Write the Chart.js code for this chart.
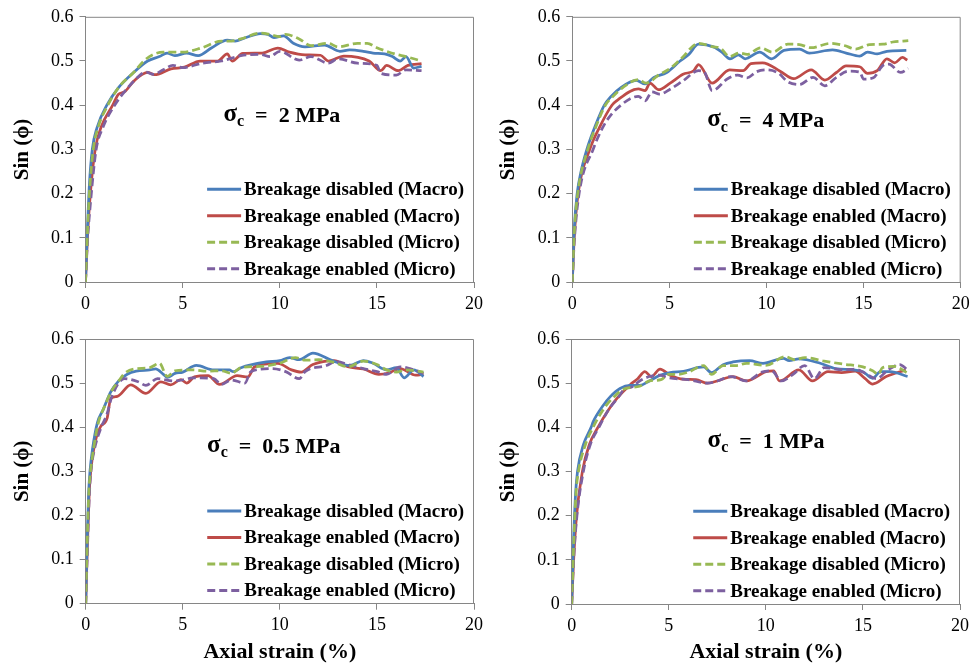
<!DOCTYPE html>
<html>
<head>
<meta charset="utf-8">
<script src="https://cdn.jsdelivr.net/npm/chart.js@4.4.1/dist/chart.umd.min.js"></script>
<style>
  body { margin: 0; background: #fff; }
  #wrap { position: relative; width: 980px; height: 669px; }
  .cell { position: absolute; }
</style>
</head>
<body>
<div id="wrap">
  <div class="cell" style="left:0;top:0;width:490px;height:320px"><canvas id="c2" width="490" height="320"></canvas></div>
  <div class="cell" style="left:490px;top:0;width:490px;height:320px"><canvas id="c4" width="490" height="320"></canvas></div>
  <div class="cell" style="left:0;top:320px;width:490px;height:349px"><canvas id="c05" width="490" height="349"></canvas></div>
  <div class="cell" style="left:490px;top:320px;width:490px;height:349px"><canvas id="c1" width="490" height="349"></canvas></div>
</div>
<script>
// series labels + tick values
const seriesLabels = ['Breakage disabled (Macro)', 'Breakage enabled (Macro)', 'Breakage disabled (Micro)', 'Breakage enabled (Micro)']
const strainTicks = [0, 5, 10, 15, 20]
const sinTicks = [0, 0.1, 0.2, 0.3, 0.4, 0.5, 0.6]

// sigma_c = 2 MPa  -> [axial strain %, sin(phi)]
const mpa2DisMacro = [[0,0],[0.1,0.12],[0.2,0.22],[0.35,0.3],[0.6,0.35],[1.1,0.4],[1.7,0.44],[2.5,0.475],[3.2,0.5],[3.8,0.51],[4.2,0.518],[4.6,0.512],[5.2,0.518],[5.8,0.512],[6.5,0.53],[7.3,0.547],[7.7,0.545],[8.2,0.552],[9,0.562],[9.4,0.56],[9.7,0.553],[10.2,0.557],[10.7,0.54],[11.3,0.532],[12.3,0.536],[13.1,0.522],[13.6,0.525],[14.3,0.522],[14.8,0.518],[15.4,0.516],[15.8,0.51],[16.2,0.5],[16.5,0.51],[16.9,0.484],[17.3,0.488]]
const mpa2EnMacro = [[0,0],[0.1,0.1],[0.25,0.2],[0.5,0.3],[0.8,0.35],[1.4,0.4],[1.7,0.425],[2.0,0.43],[2.5,0.455],[3.2,0.474],[3.55,0.469],[4.4,0.482],[5.1,0.486],[5.9,0.5],[6.8,0.5],[7.3,0.516],[7.55,0.5],[8.1,0.517],[9.1,0.518],[9.9,0.529],[10.5,0.52],[11.3,0.514],[12.1,0.513],[12.5,0.5],[13.3,0.511],[14.6,0.5],[15.2,0.478],[15.5,0.49],[16.1,0.478],[16.6,0.49],[17.3,0.494]]
const mpa2DisMicro = [[0,0],[0.1,0.11],[0.2,0.2],[0.4,0.3],[0.65,0.35],[1.15,0.4],[1.7,0.44],[2.5,0.475],[3.0,0.5],[3.5,0.515],[4,0.52],[5,0.52],[6,0.53],[7,0.545],[7.5,0.545],[8,0.55],[9,0.563],[9.5,0.56],[10,0.555],[10.3,0.56],[11,0.55],[11.6,0.535],[12.5,0.54],[13,0.532],[14,0.54],[14.5,0.54],[15,0.53],[15.5,0.522],[16,0.515],[16.5,0.51],[17.3,0.5]]
const mpa2EnMicro = [[0,0],[0.1,0.09],[0.3,0.2],[0.55,0.3],[0.9,0.35],[1.5,0.4],[2.0,0.43],[2.5,0.455],[3.1,0.475],[3.5,0.47],[4.0,0.48],[4.5,0.49],[5,0.485],[6,0.495],[7,0.5],[8,0.512],[9,0.515],[9.5,0.51],[10,0.522],[11,0.502],[11.6,0.51],[12.5,0.495],[13,0.505],[14,0.495],[15,0.49],[15.2,0.472],[16,0.468],[16.5,0.48],[17.3,0.478]]

// sigma_c = 4 MPa
const mpa4DisMacro = [[0,0],[0.1,0.12],[0.25,0.2],[0.45,0.25],[0.75,0.3],[1.2,0.355],[1.65,0.4],[2.0,0.42],[2.5,0.44],[3.3,0.456],[3.75,0.448],[4.2,0.463],[4.86,0.474],[5.55,0.5],[6.0,0.515],[6.5,0.538],[7.27,0.532],[7.7,0.52],[8.12,0.505],[8.55,0.514],[8.9,0.505],[9.65,0.52],[10.26,0.505],[10.9,0.524],[11.7,0.527],[12.2,0.518],[13.4,0.525],[14.1,0.518],[14.8,0.511],[15.2,0.52],[15.7,0.516],[16.2,0.522],[17.2,0.524]]
const mpa4EnMacro = [[0,0],[0.1,0.1],[0.3,0.2],[0.9,0.3],[1.4,0.35],[2.04,0.4],[2.28,0.41],[3.4,0.437],[3.75,0.433],[4.0,0.45],[4.44,0.435],[5.04,0.45],[5.7,0.47],[6.25,0.478],[6.5,0.492],[7.2,0.45],[8.1,0.48],[8.8,0.478],[9.2,0.494],[9.8,0.496],[10.7,0.477],[11.4,0.46],[12.3,0.48],[13.0,0.457],[13.6,0.474],[14.1,0.489],[14.8,0.487],[15.2,0.472],[15.7,0.478],[16.2,0.505],[16.6,0.496],[17.0,0.508],[17.25,0.502]]
const mpa4DisMicro = [[0,0],[0.1,0.11],[0.28,0.2],[0.8,0.3],[1.25,0.355],[1.7,0.4],[2.1,0.42],[2.6,0.44],[3.4,0.458],[3.8,0.45],[4.5,0.47],[5.0,0.482],[5.6,0.505],[6.5,0.54],[7.27,0.532],[7.6,0.53],[8.1,0.51],[8.6,0.518],[9.0,0.515],[9.7,0.53],[10.3,0.52],[11.1,0.538],[11.7,0.537],[12.3,0.53],[13.3,0.54],[14,0.535],[14.6,0.527],[15.3,0.537],[16,0.538],[16.5,0.543],[17.3,0.546]]
const mpa4EnMicro = [[0,0],[0.1,0.09],[0.35,0.2],[1.07,0.3],[1.7,0.36],[2.5,0.4],[3.4,0.42],[3.75,0.41],[4.1,0.43],[4.5,0.425],[5.0,0.435],[5.7,0.455],[6.5,0.478],[6.8,0.475],[7.2,0.433],[8.0,0.46],[8.5,0.468],[9.0,0.462],[9.5,0.476],[10.0,0.48],[10.6,0.473],[11.1,0.453],[11.7,0.447],[12.4,0.463],[13.0,0.444],[13.6,0.463],[14.2,0.477],[14.8,0.475],[15.0,0.459],[15.5,0.462],[16.0,0.49],[16.3,0.493],[16.9,0.474],[17.3,0.483]]

// sigma_c = 0.5 MPa
const mpa05DisMacro = [[0,0],[0.08,0.15],[0.15,0.25],[0.22,0.3],[0.35,0.35],[0.6,0.41],[0.9,0.44],[1.29,0.48],[1.7,0.505],[2.14,0.52],[2.6,0.527],[3.3,0.53],[3.6,0.532],[4.0,0.52],[4.2,0.513],[4.6,0.522],[5.0,0.525],[5.7,0.54],[6.6,0.53],[7.4,0.53],[7.6,0.526],[8.0,0.535],[9.3,0.548],[10.0,0.551],[10.5,0.558],[11.0,0.553],[11.7,0.568],[12.7,0.551],[13.6,0.54],[14.3,0.551],[14.8,0.545],[15.5,0.53],[16.0,0.535],[16.4,0.512],[16.9,0.53],[17.4,0.515]]
const mpa05EnMacro = [[0,0],[0.08,0.12],[0.18,0.25],[0.26,0.3],[0.45,0.36],[0.75,0.4],[1.1,0.42],[1.29,0.465],[1.63,0.47],[2.32,0.496],[3.1,0.477],[3.87,0.503],[4.38,0.496],[4.9,0.508],[5.2,0.5],[5.6,0.514],[6.3,0.517],[6.9,0.497],[7.8,0.517],[8.35,0.514],[8.7,0.537],[9.9,0.545],[10.6,0.53],[11.1,0.525],[11.7,0.542],[12.8,0.551],[13.5,0.537],[14.3,0.532],[15.1,0.52],[15.6,0.523],[16.2,0.533],[17.0,0.518],[17.4,0.52]]
const mpa05DisMicro = [[0,0],[0.08,0.14],[0.16,0.25],[0.25,0.3],[0.4,0.35],[0.65,0.41],[1.0,0.45],[1.3,0.48],[1.7,0.505],[2.0,0.522],[2.5,0.532],[3.3,0.535],[3.8,0.545],[4.2,0.515],[4.6,0.528],[5.5,0.53],[6.3,0.527],[7.0,0.528],[7.5,0.522],[8.0,0.535],[9.0,0.538],[10.0,0.545],[10.8,0.558],[11.3,0.552],[12.0,0.553],[12.8,0.547],[13.5,0.537],[14.3,0.55],[15.0,0.542],[15.5,0.53],[16.0,0.525],[16.5,0.53],[17.4,0.525]]
const mpa05EnMicro = [[0,0],[0.08,0.11],[0.18,0.24],[0.27,0.3],[0.45,0.35],[0.8,0.4],[1.1,0.43],[1.35,0.47],[2.0,0.51],[2.7,0.503],[3.1,0.495],[3.7,0.51],[4.55,0.505],[5.1,0.508],[5.5,0.512],[6.6,0.51],[7.0,0.497],[7.5,0.507],[8.2,0.5],[8.5,0.526],[9.6,0.533],[10.3,0.526],[11.0,0.51],[11.3,0.526],[12.4,0.54],[12.9,0.549],[13.6,0.541],[14.3,0.533],[15.0,0.526],[15.5,0.52],[16.2,0.537],[16.7,0.533],[17.4,0.522]]

// sigma_c = 1 MPa
const mpa1DisMacro = [[0,0],[0.1,0.15],[0.2,0.25],[0.3,0.3],[0.6,0.36],[1.0,0.4],[1.11,0.413],[1.63,0.45],[2.0,0.47],[2.49,0.488],[3.0,0.495],[3.5,0.495],[4.0,0.505],[4.55,0.518],[5.07,0.524],[5.76,0.527],[6.79,0.537],[7.2,0.524],[7.8,0.542],[8.3,0.548],[9.16,0.551],[9.85,0.545],[10.9,0.556],[11.2,0.551],[11.7,0.555],[12.8,0.545],[13.6,0.533],[14.5,0.53],[15.0,0.526],[15.5,0.511],[15.9,0.526],[16.4,0.526],[17.3,0.515]]
const mpa1EnMacro = [[0,0],[0.1,0.1],[0.25,0.2],[0.55,0.3],[0.9,0.36],[1.35,0.4],[1.9,0.44],[2.32,0.465],[3.0,0.496],[3.4,0.51],[3.77,0.526],[4.1,0.515],[4.55,0.532],[5.07,0.518],[5.76,0.509],[6.4,0.508],[7.0,0.5],[7.5,0.505],[8.3,0.515],[9.0,0.505],[10.0,0.526],[10.4,0.528],[10.7,0.505],[11.7,0.53],[12.4,0.505],[13.2,0.526],[13.9,0.524],[14.6,0.527],[15.1,0.511],[15.5,0.498],[16.2,0.515],[17.2,0.53]]
const mpa1DisMicro = [[0,0],[0.1,0.13],[0.22,0.25],[0.35,0.3],[0.7,0.36],[1.1,0.4],[1.7,0.445],[2.2,0.47],[2.7,0.487],[3.0,0.49],[3.5,0.493],[4.0,0.505],[4.6,0.508],[5.0,0.52],[5.5,0.52],[6.0,0.525],[6.8,0.54],[7.2,0.52],[7.8,0.54],[8.5,0.54],[9.0,0.545],[10.0,0.54],[11.0,0.56],[11.5,0.553],[12.0,0.558],[13.0,0.55],[14.0,0.543],[15.0,0.537],[15.5,0.528],[15.8,0.52],[16.0,0.535],[16.6,0.538],[17.3,0.523]]
const mpa1EnMicro = [[0,0],[0.1,0.1],[0.27,0.2],[0.6,0.3],[0.95,0.36],[1.4,0.4],[1.9,0.44],[2.4,0.468],[2.8,0.49],[3.0,0.49],[3.5,0.505],[4.0,0.515],[4.5,0.518],[5.0,0.512],[6.0,0.508],[7.0,0.5],[7.5,0.505],[8.2,0.515],[9.0,0.505],[9.8,0.525],[10.3,0.528],[10.8,0.505],[11.4,0.52],[12.0,0.54],[12.5,0.51],[13.0,0.535],[14.0,0.53],[14.6,0.532],[15.2,0.52],[15.7,0.51],[16.3,0.53],[16.9,0.542],[17.3,0.53]]

const colors = ['#4a7ebb', '#be4b48', '#98b954', '#7d60a0']
const dashes = [[], [], [8, 4], [8, 4]]
const axisGrey = '#868686'
const serif = '"Liberation Serif", "Times New Roman", serif'

// legend drawn inside the plot, lower right
const insideLegend = {
    id: 'insideLegend',
    afterDatasetsDraw(chart) {
        const a = chart.chartArea, ctx = chart.ctx
        const x0 = a.left + 0.313 * (a.right - a.left)
        let y = a.top + 0.65 * (a.bottom - a.top)
        ctx.save()
        ctx.font = 'bold 19px ' + serif
        ctx.textBaseline = 'middle'
        chart.data.datasets.forEach(ds => {
            ctx.strokeStyle = ds.borderColor
            ctx.lineWidth = 3
            ctx.setLineDash(ds.borderDash)
            ctx.beginPath()
            ctx.moveTo(x0, y)
            ctx.lineTo(x0 + 34, y)
            ctx.stroke()
            ctx.setLineDash([])
            ctx.fillStyle = '#000'
            ctx.fillText(ds.label, x0 + 37, y + 1)
            y += 0.1 * (a.bottom - a.top)
        })
        ctx.restore()
    }
}

// sigma_c note + top/right frame
const noteAndFrame = {
    id: 'note',
    beforeDatasetsDraw(chart) {
        const a = chart.chartArea, ctx = chart.ctx
        ctx.save()
        ctx.strokeStyle = axisGrey
        ctx.lineWidth = 1
        ctx.beginPath()
        ctx.moveTo(a.left, a.top + 0.5)
        ctx.lineTo(a.right - 0.5, a.top + 0.5)
        ctx.lineTo(a.right - 0.5, a.bottom)
        ctx.stroke()
        ctx.restore()
    },
    afterDatasetsDraw(chart, args, opts) {
        const ctx = chart.ctx
        let x = chart.scales.x.getPixelForValue(opts.x)
        const y = chart.scales.y.getPixelForValue(opts.y)
        ctx.save()
        ctx.fillStyle = '#000'
        ctx.textBaseline = 'middle'
        ctx.font = 'bold 25px ' + serif
        ctx.fillText('σ', x, y - 2)
        x += ctx.measureText('σ').width
        ctx.font = 'bold 16px ' + serif
        ctx.fillText('c', x, y + 6)
        x += ctx.measureText('c').width
        ctx.font = 'bold 22px ' + serif
        ctx.fillText('  =  ' + opts.value + ' MPa', x, y)
        ctx.restore()
    }
}

const makePanel = (id, series, note, box) => {
    new Chart(document.getElementById(id), {
        type: 'line',
        data: {
            datasets: series.map((pts, i) => ({
                label: seriesLabels[i],
                data: pts.map(p => ({ x: p[0], y: p[1] })),
                borderColor: colors[i],
                borderWidth: 2.75,
                borderDash: dashes[i],
                pointRadius: 0,
                fill: false,
                cubicInterpolationMode: 'monotone',
                order: i < 2 ? 1 : 0
            }))
        },
        options: {
            responsive: false,
            animation: false,
            events: [],
            layout: { padding: { top: box.top, right: box.right, left: 0, bottom: 0 } },
            plugins: {
                legend: { display: false },
                tooltip: { enabled: false },
                note: note
            },
            scales: {
                x: {
                    type: 'linear',
                    min: strainTicks[0],
                    max: strainTicks[strainTicks.length - 1],
                    afterBuildTicks: s => { s.ticks = strainTicks.map(v => ({ value: v })) },
                    ticks: { color: '#000', padding: 5, autoSkip: false, maxRotation: 0, font: { family: serif, size: 18 } },
                    grid: { drawOnChartArea: false, tickLength: 6, color: axisGrey },
                    border: { color: axisGrey },
                    title: {
                        display: box.xTitle,
                        text: 'Axial strain (%)',
                        color: '#000',
                        font: { family: serif, size: 22, weight: 'bold' },
                        padding: { top: 0, bottom: 3 }
                    },
                    afterFit: s => { s.height = box.xh }
                },
                y: {
                    min: sinTicks[0],
                    max: sinTicks[sinTicks.length - 1],
                    afterBuildTicks: s => { s.ticks = sinTicks.map(v => ({ value: v })) },
                    ticks: {
                        color: '#000', padding: 6, font: { family: serif, size: 18 },
                        callback: v => v === 0 ? '0' : v.toFixed(1)
                    },
                    grid: { drawOnChartArea: false, tickLength: 6, color: axisGrey },
                    border: { color: axisGrey },
                    title: {
                        display: true,
                        text: 'Sin (ϕ)',
                        color: '#000',
                        font: { family: serif, size: 21, weight: 'bold' },
                        padding: { top: box.titleOffset - 12.6, bottom: 0 }
                    },
                    afterFit: s => { s.width = box.yw }
                }
            }
        },
        plugins: [insideLegend, noteAndFrame]
    })
}

makePanel('c2', [mpa2DisMacro, mpa2EnMacro, mpa2DisMicro, mpa2EnMicro],
    { value: '2', x: 7.1, y: 0.375 },
    { top: 16, right: 16, yw: 85.5, xh: 38, titleOffset: 22.5, xTitle: false })
makePanel('c4', [mpa4DisMacro, mpa4EnMacro, mpa4DisMicro, mpa4EnMicro],
    { value: '4', x: 6.95, y: 0.363 },
    { top: 16, right: 19.3, yw: 82.3, xh: 38, titleOffset: 19, xTitle: false })
makePanel('c05', [mpa05DisMacro, mpa05EnMacro, mpa05DisMicro, mpa05EnMicro],
    { value: '0.5', x: 6.25, y: 0.355 },
    { top: 19, right: 16, yw: 85.7, xh: 65.3, titleOffset: 22.5, xTitle: true })
makePanel('c1', [mpa1DisMacro, mpa1EnMacro, mpa1DisMicro, mpa1EnMicro],
    { value: '1', x: 7.0, y: 0.366 },
    { top: 19, right: 20, yw: 81.7, xh: 65, titleOffset: 19, xTitle: true })
</script>
</body>
</html>
